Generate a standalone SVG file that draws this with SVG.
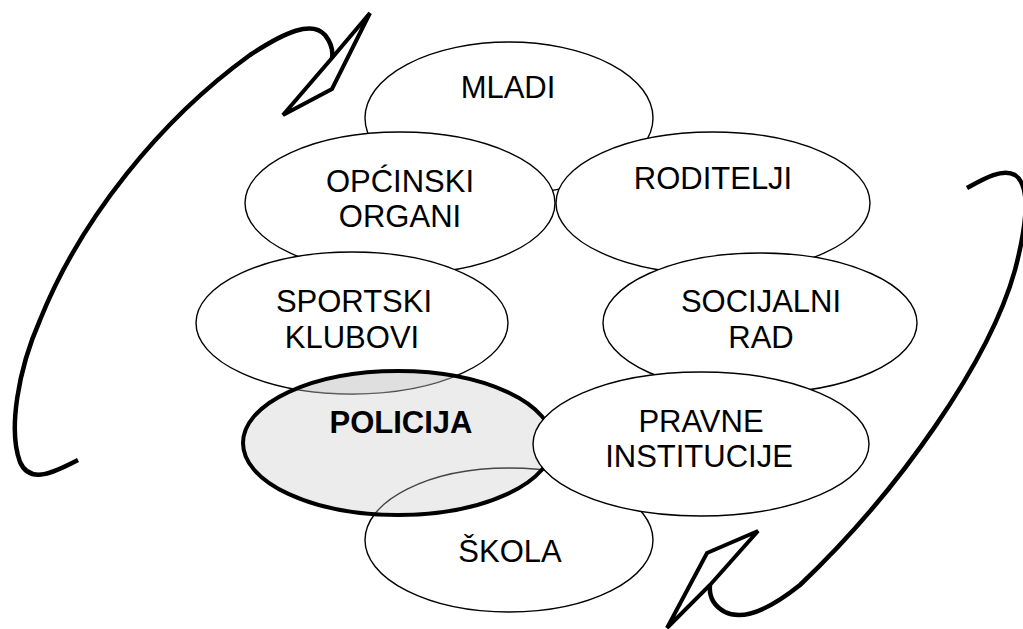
<svg xmlns="http://www.w3.org/2000/svg" width="1023" height="629" viewBox="0 0 1023 629">
<style>
.e{fill:#fff;stroke:#000;stroke-width:1.4}
.t{font-family:"Liberation Sans",Arial,sans-serif;font-size:31px;fill:#000;text-anchor:middle}
.b{font-weight:bold}
.arr{fill:none;stroke:#000;stroke-width:4.5;stroke-linecap:butt;stroke-linejoin:round}
.head{fill:#fff;stroke:#000;stroke-width:4;stroke-linejoin:miter}
</style>
<defs>
<clipPath id="polClip"><ellipse cx="398" cy="443" rx="155" ry="72"/></clipPath>
</defs>
<rect width="1023" height="629" fill="#fff"/>
<g id="mladi"><ellipse class="e" cx="509" cy="118" rx="144" ry="76"/><text class="t" x="508" y="98">MLADI</text></g>
<g id="opcinski"><ellipse class="e" cx="400" cy="203" rx="155" ry="71"/><text class="t" x="400" y="192">OPĆINSKI</text><text class="t" x="400" y="227">ORGANI</text></g>
<g id="roditelji"><ellipse class="e" cx="713" cy="203" rx="157" ry="71"/><text class="t" x="713" y="189">RODITELJI</text></g>
<g id="sportski"><ellipse class="e" cx="352" cy="323" rx="156" ry="71"/><text class="t" x="354" y="312">SPORTSKI</text><text class="t" x="352" y="348">KLUBOVI</text></g>
<g id="socijalni"><ellipse class="e" cx="760" cy="323" rx="157" ry="70"/><text class="t" x="761" y="312">SOCIJALNI</text><text class="t" x="761" y="348">RAD</text></g>
<g id="skola"><ellipse class="e" cx="509" cy="540" rx="144" ry="72"/><text class="t" x="510" y="562">ŠKOLA</text></g>
<g id="policija">
<ellipse cx="398" cy="443" rx="155" ry="72" fill="#c8c8c8" fill-opacity="0.35"/>
<ellipse cx="352" cy="323" rx="156" ry="71" fill="#c8c8c8" fill-opacity="0.35" clip-path="url(#polClip)"/>
<ellipse cx="398" cy="443" rx="155" ry="72" fill="none" stroke="#000" stroke-width="4"/>
<text class="t b" x="401" y="433">POLICIJA</text>
</g>
<g id="pravne"><ellipse class="e" cx="701" cy="444" rx="168" ry="72"/><text class="t" x="701" y="432">PRAVNE</text><text class="t" x="699" y="467">INSTITUCIJE</text></g>
<g id="connectors">
<path class="arr" d="M 78 460 C 55 472, 30 485, 20 462 C 8 430, 18 370, 40 320 C 80 220, 160 120, 250 55 C 285 32, 312 20, 325 35 C 332 44, 333 52, 332 58"/>
<polygon class="head" points="370,13 332,89 283,115 332,58"/>
<path class="arr" d="M 967 188 C 985 178, 1003 168, 1015 175 C 1030 185, 1028 220, 1015 270 C 990 360, 900 490, 800 585 C 775 605, 745 622, 725 612 C 712 605, 709 595, 710 585"/>
<polygon class="head" points="667,628 707,553 758,531 710,585"/>
</g>
</svg>
